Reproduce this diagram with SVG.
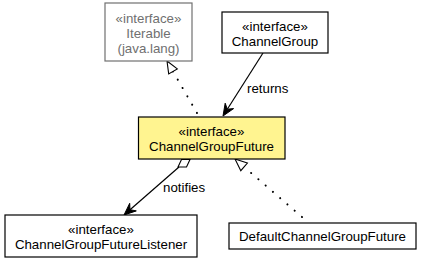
<svg xmlns="http://www.w3.org/2000/svg" width="421" height="264" viewBox="0 0 421 264">
  <style>
    text { font-family: "Liberation Sans", Arial, sans-serif; font-size: 13.3px; text-anchor: middle; fill: #000; }
    .box { fill: #fff; stroke: #000; stroke-width: 1.2; }
    .ext { fill: #fff; stroke: #707070; stroke-width: 1.2; }
    .ext-text { fill: #707070; }
    .focus { fill: #fff490; stroke: #000; stroke-width: 1.2; }
    .assoc { fill: none; stroke: #000; stroke-width: 1.2; }
    .real { fill: none; stroke: #000; stroke-width: 2; stroke-dasharray: 0.1 9.5; stroke-linecap: round; }
    .vee { fill: #000; stroke: #000; stroke-width: 1; }
    .hollow { fill: #fff; stroke: #000; stroke-width: 1.1; }
    .label { text-anchor: start; }
  </style>

  <!-- connectors -->
  <g id="connectors">
    <!-- ChannelGroupFuture implements Iterable -->
    <line class="real" x1="197" y1="113" x2="173" y2="71.4"/>
    <polygon class="hollow" points="167,61 177.3,68.9 168.7,73.9"/>

    <!-- ChannelGroup returns ChannelGroupFuture -->
    <line class="assoc" x1="263" y1="53" x2="227.3" y2="109.2"/>
    <polygon class="vee" points="223,116 233.6,108.6 227.3,109.2 225.2,103.2"/>
    <text class="label" x="247" y="93">returns</text>

    <!-- ChannelGroupFuture notifies ChannelGroupFutureListener -->
    <polygon class="hollow" points="181.5,159.5 190,159.5 186.5,167 178,167"/>
    <line class="assoc" x1="179" y1="167" x2="130" y2="209.7"/>
    <polygon class="vee" points="124,215 136.3,210.9 130,209.7 129.7,203.3"/>
    <text class="label" x="163" y="192">notifies</text>

    <!-- DefaultChannelGroupFuture implements ChannelGroupFuture -->
    <line class="real" x1="302" y1="217" x2="244.1" y2="166.9"/>
    <polygon class="hollow" points="235,159 247.4,163.1 240.8,170.7"/>
  </g>

  <g id="Iterable">
    <rect class="ext" x="105" y="3" width="87" height="58"/>
    <text class="ext-text" x="148.5" y="22.5">«interface»</text>
    <text class="ext-text" x="148.5" y="37.5">Iterable</text>
    <text class="ext-text" x="148.5" y="52.5">(java.lang)</text>
  </g>

  <g id="ChannelGroup">
    <rect class="box" x="222" y="12" width="106" height="41"/>
    <text x="275" y="31">«interface»</text>
    <text x="275" y="46">ChannelGroup</text>
  </g>

  <g id="ChannelGroupFuture">
    <rect class="focus" x="138.5" y="117" width="146.5" height="42"/>
    <text x="211.5" y="136">«interface»</text>
    <text x="211.5" y="151">ChannelGroupFuture</text>
  </g>

  <g id="ChannelGroupFutureListener">
    <rect class="box" x="5" y="215" width="192" height="42"/>
    <text x="101" y="234">«interface»</text>
    <text x="101" y="249">ChannelGroupFutureListener</text>
  </g>

  <g id="DefaultChannelGroupFuture">
    <rect class="box" x="229" y="223" width="187" height="26"/>
    <text x="322.5" y="241">DefaultChannelGroupFuture</text>
  </g>
</svg>
